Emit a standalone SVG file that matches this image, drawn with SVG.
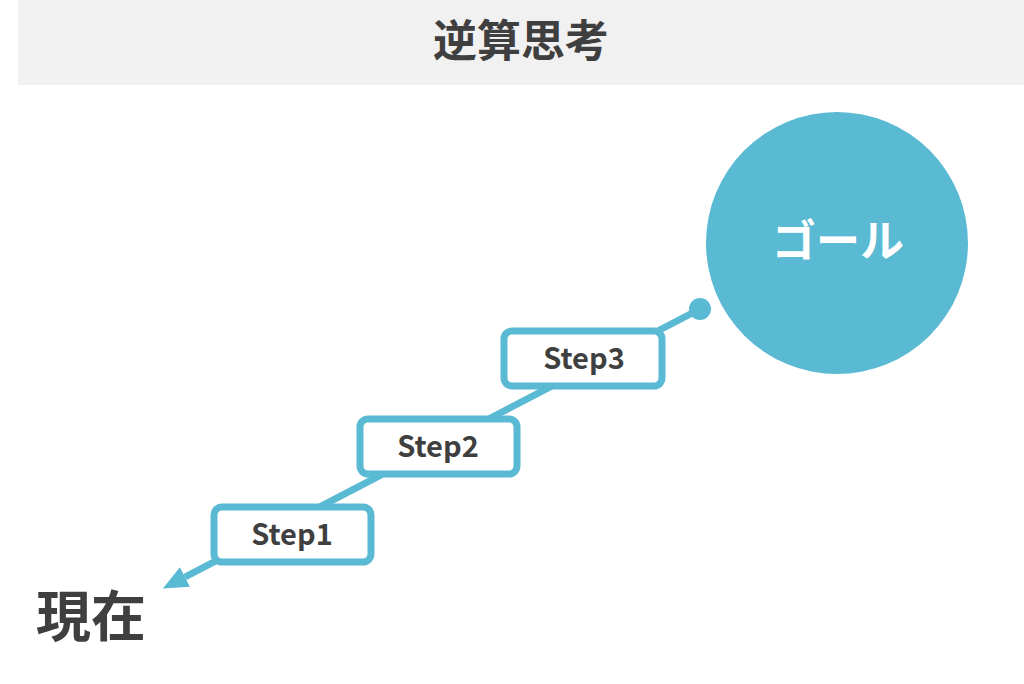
<svg xmlns="http://www.w3.org/2000/svg" width="1024" height="684" viewBox="0 0 1024 684">
<style>
.title{font-family:"Noto Sans CJK JP","Noto Sans",sans-serif;font-weight:bold;fill:#3f3f3f}
.box{fill:#fff;stroke:#5bbad3;stroke-width:7}
.lbl{font-family:"Noto Sans CJK JP","Noto Sans",sans-serif;font-weight:bold;font-size:29px;fill:#3f3f3f;text-anchor:middle}
</style>
<defs>
<marker id="arr" markerUnits="userSpaceOnUse" markerWidth="30" markerHeight="24" refX="0" refY="11" orient="auto">
<path d="M0,0 L25,11 L0,22 Z" fill="#5bbad3"/>
</marker>
</defs>
<rect width="1024" height="684" fill="#fff"/>
<g id="header">
<rect x="18" y="0" width="1006" height="85" fill="#f1f1f1"/>
<text class="title" x="521" y="57" font-size="44" text-anchor="middle">逆算思考</text>
</g>
<g id="connectors">
<line x1="700" y1="309" x2="185" y2="577" stroke="#5bbad3" stroke-width="7" marker-end="url(#arr)"/>
<circle cx="700" cy="309" r="11" fill="#5bbad3"/>
</g>
<g id="goal">
<circle cx="837" cy="243" r="131" fill="#5bbad3"/>
<text class="title" x="838" y="257" font-size="44" text-anchor="middle" style="fill:#fff">ゴール</text>
</g>
<g id="step3">
<rect class="box" x="504" y="331" width="158" height="55" rx="8"/>
<text class="lbl" x="584" y="369">Step3</text>
</g>
<g id="step2">
<rect class="box" x="360" y="419" width="157" height="55" rx="8"/>
<text class="lbl" x="438" y="457">Step2</text>
</g>
<g id="step1">
<rect class="box" x="214" y="507" width="157" height="55" rx="8"/>
<text class="lbl" x="292" y="545">Step1</text>
</g>
<g id="current">
<text class="title" x="36" y="636" font-size="55">現在</text>
</g>
</svg>
